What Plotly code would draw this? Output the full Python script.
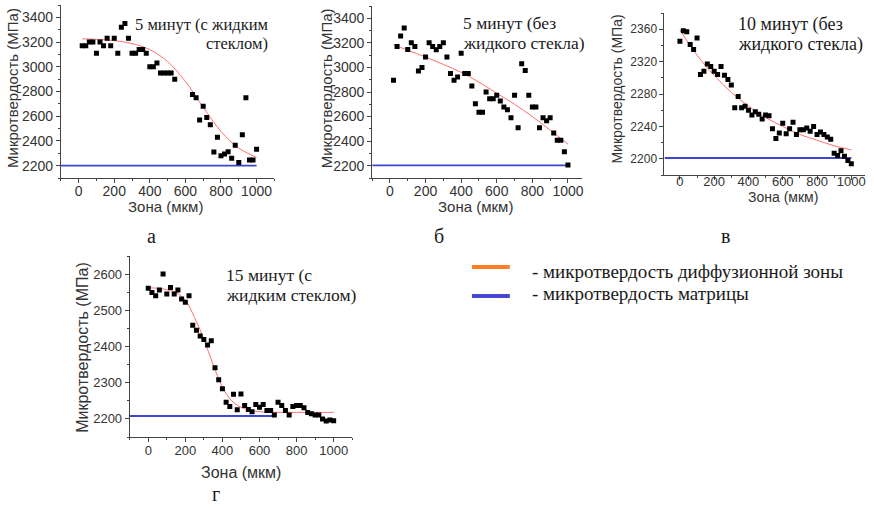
import plotly.graph_objects as go

W, H = 874, 508

# ---------------- data ----------------
# panel а : 5 минут (с жидким стеклом)
xa = [20, 40, 60, 80, 100, 120, 140, 160, 180, 200, 220, 240, 260, 280, 300, 320, 340, 360, 380,
      400, 420, 440, 460, 480, 500, 520, 540, 640, 660, 680, 700, 720, 740, 760, 780, 800, 820,
      840, 860, 880, 900, 920, 940, 960, 980, 1000]
ya = [3170, 3170, 3200, 3200, 3110, 3200, 3170, 3230, 3170, 3230, 3110, 3320, 3350, 3230, 3110,
      3110, 3140, 3140, 3110, 3000, 3000, 3030, 2950, 2950, 2950, 2950, 2900, 2775, 2750, 2570,
      2680, 2590, 2530, 2310, 2430, 2280, 2295, 2313, 2260, 2365, 2225, 2450, 2750, 2245, 2245,
      2333]
fit_a_x = [20, 100, 200, 300, 400, 500, 600, 700, 800, 900, 1000]
fit_a_y = [3226, 3222, 3212, 3188, 3139, 3042, 2881, 2672, 2477, 2342, 2267]
base_a_x = [-100, 1000]
base_a_y = [2200, 2200]

# panel б : 5 минут (без жидкого стекла)
xb = [20, 40, 60, 80, 100, 120, 140, 160, 180, 200, 220, 240, 260, 280, 300, 320, 340, 360, 380,
      400, 420, 440, 460, 480, 500, 520, 540, 560, 580, 600, 620, 640, 660, 680, 700, 720, 740,
      760, 780, 800, 820, 840, 860, 880, 900, 920, 940, 960, 980, 1000]
yb = [2895, 3170, 3255, 3320, 3145, 3200, 3170, 2970, 3000, 3085, 3200, 3170, 3143, 3170, 3200,
      3085, 2950, 2895, 2923, 3115, 2950, 2950, 2848, 2705, 2636, 2636, 2800, 2745, 2745, 2773,
      2726, 2677, 2655, 2591, 2773, 2508, 3030, 2975, 2773, 2677, 2677, 2508, 2591, 2566, 2591,
      2467, 2407, 2407, 2313, 2205]
fit_b_x = [20, 100, 200, 300, 400, 500, 600, 700, 800, 900, 1000]
fit_b_y = [3185, 3140, 3085, 3025, 2960, 2880, 2790, 2700, 2600, 2490, 2375]
base_b_x = [-100, 1010]
base_b_y = [2202, 2202]

# panel в : 10 минут (без жидкого стекла)
xc = [0, 20, 40, 60, 80, 100, 120, 140, 160, 180, 200, 220, 240, 260, 280, 300, 320, 340, 360,
      380, 400, 420, 440, 460, 480, 500, 520, 540, 560, 580, 600, 620, 640, 660, 680, 700, 720,
      740, 760, 780, 800, 820, 840, 860, 880, 900, 920, 940, 960, 980, 1000]
yc = [2345, 2358, 2357, 2341, 2335, 2349, 2304, 2308, 2317, 2314, 2308, 2304, 2314, 2303, 2298,
      2291, 2263, 2277, 2263, 2265, 2260, 2254, 2258, 2255, 2249, 2254, 2253, 2237, 2225, 2232,
      2244, 2231, 2237, 2245, 2230, 2236, 2236, 2238, 2234, 2240, 2230, 2233, 2230, 2227, 2224,
      2207, 2204, 2210, 2203, 2198, 2194]
fit_c_x = [0, 100, 200, 300, 400, 500, 600, 700, 800, 900, 1000]
fit_c_y = [2359, 2328, 2303, 2282, 2265, 2251, 2240, 2230, 2223, 2216, 2211]
base_c_x = [-90, 1000]
base_c_y = [2201, 2201]

# panel г : 15 минут (с жидким стеклом)
xd = [0, 20, 40, 60, 80, 100, 120, 140, 160, 180, 200, 220, 240, 260, 280, 300, 320, 340, 360,
      380, 400, 420, 440, 460, 480, 500, 520, 540, 560, 580, 600, 620, 640, 660, 680, 700, 720,
      740, 760, 780, 800, 820, 840, 860, 880, 900, 920, 940, 960, 980, 1000]
yd = [2561, 2549, 2540, 2556, 2600, 2545, 2563, 2545, 2556, 2531, 2522, 2540, 2459, 2445, 2429,
      2419, 2404, 2416, 2341, 2308, 2283, 2246, 2234, 2268, 2225, 2269, 2237, 2226, 2220, 2240,
      2232, 2240, 2223, 2223, 2211, 2246, 2237, 2223, 2211, 2234, 2237, 2237, 2231, 2218, 2214,
      2211, 2211, 2200, 2194, 2197, 2195]
fit_d_x = [0, 50, 100, 150, 200, 250, 300, 350, 400, 450, 500, 550, 600, 700, 800, 900, 1000]
fit_d_y = [2562, 2561, 2557, 2549, 2528, 2480, 2420, 2350, 2288, 2250, 2232, 2224, 2220, 2218,
           2218, 2218, 2218]
base_d_x = [-100, 680]
base_d_y = [2208, 2208]

title_lines = [["5 минут (с жидким", "стеклом)"], ["5 минут (без", "жидкого стекла)"],
               ["10 минут (без", "жидкого стекла)"], ["15 минут (с", "жидким стеклом)"]]
letters = ["а", "б", "в", "г"]
legend_labels = ["- микротвердость диффузионной зоны", "- микротвердость матрицы"]
y_title = "Микротвердость (МПа)"
x_title = "Зона (мкм)"

# ---------------- style ----------------
FIT = "#ff6f6f"
BASE = "#3c46d2"
AX = "#444444"
SANS = "Liberation Sans, Arial, sans-serif"
SERIF = "Liberation Serif, Times New Roman, serif"

def px(x):
    return x / W

def py(y):
    return 1 - y / H

panels = [
    dict(xd=(61, 275), yd=(5, 178), xr=[-100, 1100], yr=[2100, 3500], dt=200, mn=100,
         xf=14, yf=14, so=-4, data=(xa, ya, fit_a_x, fit_a_y, base_a_x, base_a_y)),
    dict(xd=(373, 583), yd=(6, 178), xr=[-100, 1077], yr=[2100, 3500], dt=200, mn=100,
         xf=14, yf=14, so=-4, data=(xb, yb, fit_b_x, fit_b_y, base_b_x, base_b_y)),
    dict(xd=(666, 867), yd=(13, 175), xr=[-90, 1080], yr=[2180, 2380], dt=40, mn=20,
         xf=13, yf=12, so=-10, data=(xc, yc, fit_c_x, fit_c_y, base_c_x, base_c_y)),
    dict(xd=(130, 353), yd=(256, 437), xr=[-100, 1100], yr=[2150, 2650], dt=100, mn=50,
         xf=13, yf=13, so=-3, data=(xd, yd, fit_d_x, fit_d_y, base_d_x, base_d_y)),
]

fig = go.Figure()
layout = dict(width=W, height=H, margin=dict(l=0, r=0, t=0, b=0),
              paper_bgcolor="white", plot_bgcolor="white", showlegend=False)

for i, p in enumerate(panels, start=1):
    xs, ys, fx, fy, bx, by = p["data"]
    xn = "x" if i == 1 else f"x{i}"
    yn = "y" if i == 1 else f"y{i}"
    fig.add_trace(go.Scatter(x=bx, y=by, mode="lines", line=dict(color=BASE, width=1.8),
                             xaxis=xn, yaxis=yn, hoverinfo="skip"))
    fig.add_trace(go.Scatter(x=fx, y=fy, mode="lines", line=dict(color=FIT, width=1, shape="spline"),
                             xaxis=xn, yaxis=yn))
    fig.add_trace(go.Scatter(x=xs, y=ys, mode="markers",
                             marker=dict(symbol="square", size=5, color="black"),
                             xaxis=xn, yaxis=yn))
    xk = "xaxis" if i == 1 else f"xaxis{i}"
    yk = "yaxis" if i == 1 else f"yaxis{i}"
    layout[xk] = dict(domain=[px(p["xd"][0]), px(p["xd"][1])], anchor=yn, range=p["xr"],
                      showgrid=False, zeroline=False, showline=True, linecolor=AX, linewidth=1,
                      ticks="outside", ticklen=4, tickcolor=AX, tickmode="linear", tick0=0,
                      dtick=200, tickfont=dict(family=SANS, size=p["xf"], color="#333"),
                      ticklabelstandoff=p["so"],
                      minor=dict(ticks="outside", ticklen=2, tickcolor=AX, dtick=100, tick0=0),
                      fixedrange=True)
    layout[yk] = dict(domain=[py(p["yd"][1]), py(p["yd"][0])], anchor=xn, range=p["yr"],
                      showgrid=False, zeroline=False, showline=True, linecolor=AX, linewidth=1,
                      ticks="outside", ticklen=4, tickcolor=AX, tickmode="linear", tick0=0,
                      dtick=p["dt"], tickfont=dict(family=SANS, size=p["yf"], color="#333"),
                      minor=dict(ticks="outside", ticklen=2, tickcolor=AX, dtick=p["mn"], tick0=0),
                      fixedrange=True)

fig.update_layout(**layout)

ann = []
ytitle_pos = [(12, 88, 15), (327, 88, 15), (618, 89, 14), (82, 347, 16)]
xtitle_pos = [(166, 207, 15), (477, 207, 15), (785, 197, 14), (242, 472, 16)]
for (x, y, s) in ytitle_pos:
    ann.append(dict(x=px(x), y=py(y), xref="paper", yref="paper", text=y_title, textangle=-90,
                    showarrow=False, font=dict(family=SANS, size=s, color="#333"),
                    xanchor="center", yanchor="middle"))
for (x, y, s) in xtitle_pos:
    ann.append(dict(x=px(x), y=py(y), xref="paper", yref="paper", text=x_title,
                    showarrow=False, font=dict(family=SANS, size=s, color="#333"),
                    xanchor="center", yanchor="middle"))
# panel titles, one annotation per line: (x, y line1, y line2, anchor, font size)
title_pos = [(271, 24, 44, "right", 16.5), (462, 23, 43, "left", 17.5),
             (738, 24, 45, "left", 18), (225, 275, 295, "left", 17.5)]
for lines, (x, y1, y2, al, fs) in zip(title_lines, title_pos):
    for txt, yy in zip(lines, (y1, y2)):
        ann.append(dict(x=px(x), y=py(yy), xref="paper", yref="paper", text=txt,
                        showarrow=False, font=dict(family=SERIF, size=fs, color="#1a1a1a"),
                        xanchor=al, yanchor="middle"))
letter_pos = [(152, 236), (440, 236), (727, 236), (216, 494)]
for l, (x, y) in zip(letters, letter_pos):
    ann.append(dict(x=px(x), y=py(y), xref="paper", yref="paper", text=l, showarrow=False,
                    font=dict(family=SERIF, size=20, color="#1a1a1a"),
                    xanchor="center", yanchor="middle"))
leg_colors = ["#ff7f27", "#4747d1"]
leg_y = [267, 296]
leg_ty = [271, 293]
shapes = []
for c, yy, ty, lab in zip(leg_colors, leg_y, leg_ty, legend_labels):
    shapes.append(dict(type="line", xref="paper", yref="paper", x0=px(473), x1=px(511),
                       y0=py(yy), y1=py(yy), line=dict(color=c, width=4)))
    ann.append(dict(x=px(531), y=py(ty), xref="paper", yref="paper", text=lab, showarrow=False,
                    font=dict(family=SERIF, size=19, color="#1a1a1a"),
                    xanchor="left", yanchor="middle"))

fig.update_layout(annotations=ann, shapes=shapes)
fig.write_html("out.html", config={"displayModeBar": False},
               post_script="document.body.style.margin='0';document.body.style.padding='0';")
